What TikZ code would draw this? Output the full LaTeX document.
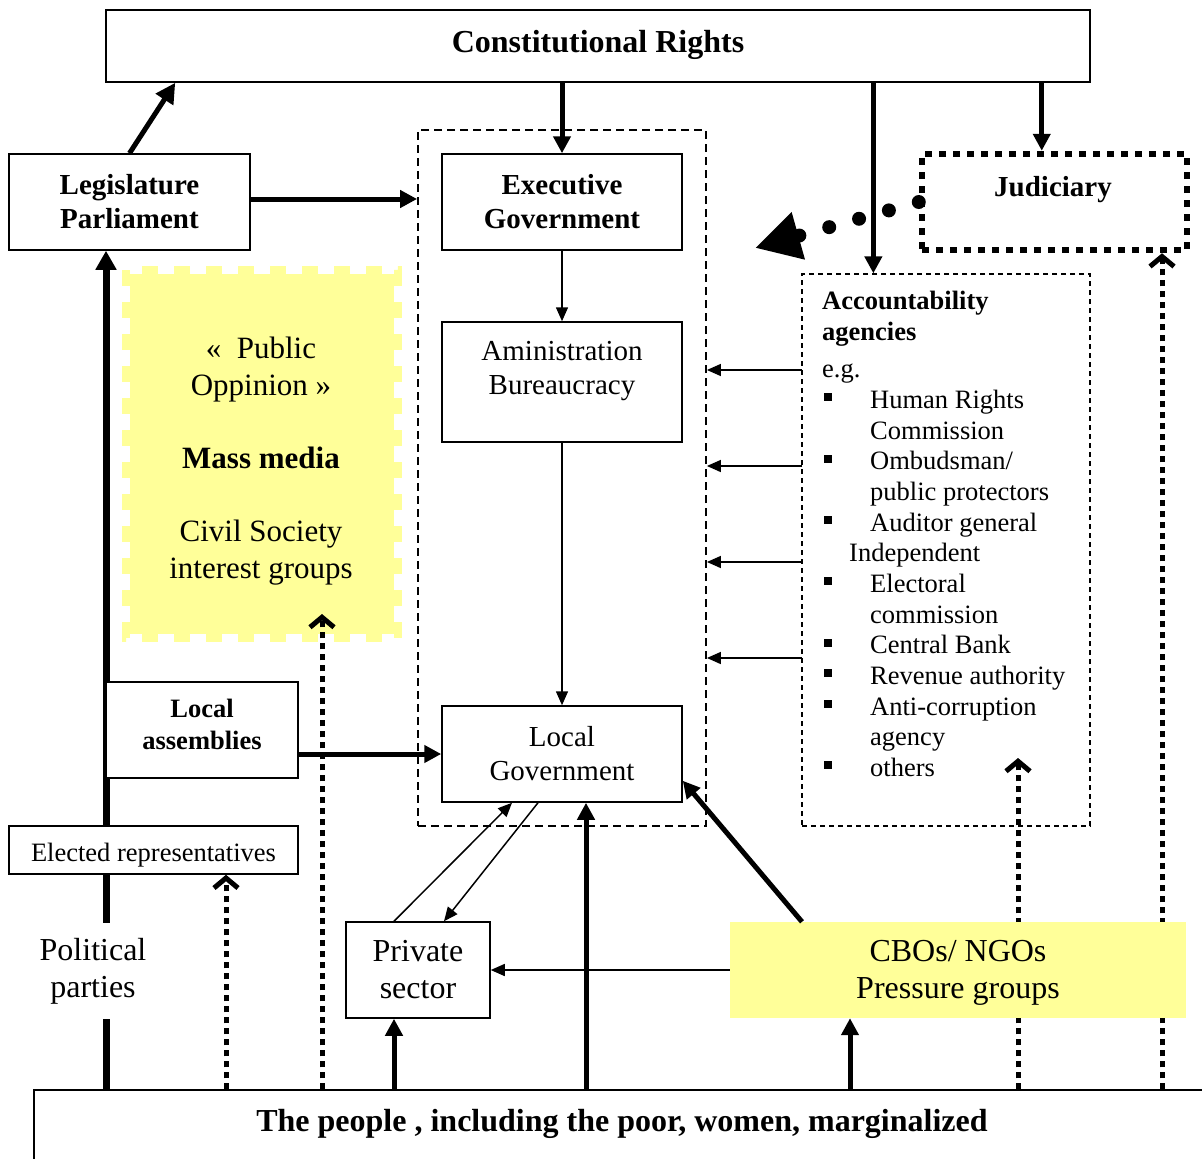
\documentclass[tikz,border=0pt]{standalone}
\usepackage{fontspec}
\setmainfont{Liberation Serif}
\usetikzlibrary{arrows.meta}
\definecolor{lyellow}{HTML}{FFFF99}
\pgfdeclarelayer{bg}
\pgfsetlayers{bg,main}
\tikzset{
 f32/.style={font=\fontsize{32}{37}\selectfont},
 f31/.style={font=\fontsize{31}{37}\selectfont},
 f29/.style={font=\fontsize{29}{34}\selectfont},
 f29b/.style={font=\fontsize{29}{34}\selectfont\bfseries},
 f32b/.style={font=\fontsize{32}{37}\selectfont\bfseries},
 f26/.style={font=\fontsize{26.5}{32}\selectfont},
 f26b/.style={font=\fontsize{26.5}{32}\selectfont\bfseries},
 box/.style={draw, line width=1.5pt, fill=white, inner sep=0pt, align=center},
 thickarr/.style={line width=5pt, -{Triangle[length=17pt,width=17pt]}},
 bigarr/.style={line width=5pt, -{Triangle[length=20pt,width=20pt]}},
 polarr/.style={line width=7pt, -{Triangle[length=19pt,width=20pt]}},
 thinarr/.style={line width=1.5pt, -{Triangle[length=14pt,width=12pt]}},
 dotarr/.style={line width=5pt, dash pattern=on 6pt off 5pt, -{Straight Barb[length=10pt,width=24pt]}},
 jdots/.style={line width=14pt, line cap=round, dash pattern=on 0pt off 31pt, -{Triangle[length=45pt,width=46pt]}},
 acl/.style={f26, anchor=base west, inner sep=0pt},
}
\begin{document}
\begin{tikzpicture}[x=1pt,y=-1pt]
\useasboundingbox (0,0) rectangle (1202,1159);
\clip (0,0) rectangle (1202,1159);

% public opinion area
\fill[lyellow] (130,274) rectangle (394,634);
\draw[lyellow, line width=8pt, dash pattern=on 16pt off 16pt] (126,270) rectangle (398,638);
\node[f31, align=center] (pubop) at (261,461) {«\ \ Public\\Oppinion »\\[36pt]\textbf{Mass media}\\[36pt]Civil Society\\interest groups};

% boxes
\node[box, minimum width=984pt, minimum height=72pt] (const) at (598,46) {};
\node[f32b] (constlab) at (598,45) {Constitutional Rights};
\node[box, f29b, minimum width=241pt, minimum height=96pt] (leg) at (129.5,202) {Legislature\\Parliament};
\node[draw, line width=1.8pt, dash pattern=on 8pt off 5pt, minimum width=288pt, minimum height=696pt] (execgrp) at (562,478) {};
\node[box, f29b, minimum width=240pt, minimum height=96pt] (exec) at (562,202) {Executive\\Government};
\node[box, minimum width=240pt, minimum height=120pt] (adm) at (562,382) {};
\node[f29, align=center] (admlab) at (562,371) {Aministration\\Bureaucracy};
\node[box, f29, minimum width=240pt, minimum height=96pt] (lg) at (562,754) {Local\\Government};
\node[draw, line width=6.5pt, dash pattern=on 7pt off 7pt, minimum width=265pt, minimum height=96pt, inner sep=0pt] (jud) at (1054.5,202) {};
\node[f29b] (judlab) at (1053,190) {Judiciary};
\node[draw, line width=1.3pt, dash pattern=on 5pt off 4pt, minimum width=288pt, minimum height=552pt] (acct) at (946,550) {};
\node[box, minimum width=192pt, minimum height=96pt] (locasm) at (202,730) {};
\node[f26b, align=center] (locasmlab) at (202,724) {Local\\assemblies};
\node[box, minimum width=289pt, minimum height=48pt] (elec) at (153.5,850) {};
\node[f26] (eleclab) at (153.5,855) {Elected representatives};
\node[box, f32, minimum width=144pt, minimum height=96pt] (priv) at (418,970) {Private\\sector};
\node[fill=lyellow, minimum width=456pt, minimum height=96pt] (cbo) at (958,970) {};
\node[f32, align=center] (cbolab) at (958,973) {CBOs/ NGOs\\Pressure groups};
\node[box, minimum width=1196pt, minimum height=110pt] (people) at (632,1145) {};
\node[f32b] (peoplelab) at (622,1124) {The people , including the poor, women, marginalized};
\node[fill=white, f32, align=center, inner xsep=2pt, minimum height=96pt] (pol) at (93,971) {Political\\parties};

% accountability list
\node[acl, font=\fontsize{26.5}{32}\selectfont\bfseries] (a1) at (822,309) {Accountability};
\node[acl, font=\fontsize{26.5}{32}\selectfont\bfseries] (a2) at (822,340.1) {agencies};
\node[acl] (a3) at (822,377.3) {e.g.};
\node[acl] (a4) at (870,408.4) {Human Rights};
\node[acl] (a5) at (870,439.1) {Commission};
\node[acl] (a6) at (870,469.7) {Ombudsman/};
\node[acl] (a7) at (870,500.4) {public protectors};
\node[acl] (a8) at (870,531.1) {Auditor general};
\node[acl] (a9) at (849,561.8) {Independent};
\node[acl] (a10) at (870,592.4) {Electoral};
\node[acl] (a11) at (870,623.1) {commission};
\node[acl] (a12) at (870,653.8) {Central Bank};
\node[acl] (a13) at (870,684.4) {Revenue authority};
\node[acl] (a14) at (870,715.1) {Anti-corruption};
\node[acl] (a15) at (870,745.8) {agency};
\node[acl] (a16) at (870,776.4) {others};
\foreach \bb in {408.4,469.7,531.1,592.4,653.8,684.4,715.1,776.4}
  \fill (824,\bb-7) rectangle (832,\bb-15);

% connectors
\coordinate (legc) at ([xshift=70pt]const.south west);
\draw[bigarr] (leg.north) -- (legc);
\draw[thickarr] (const.south -| exec.north) -- (exec.north);
\coordinate (acctn) at ([xshift=72pt]acct.north west);
\draw[thickarr] (const.south -| acctn) -- (acctn);
\coordinate (judn) at ([xshift=123pt]jud.north west);
\draw[thickarr] (const.south -| judn) -- (judn);
\draw[thickarr] ([yshift=3pt]leg.east) -- ([yshift=3pt]leg.east -| execgrp.west);
\draw[thinarr] (exec.south) -- (adm.north);
\draw[thinarr] (adm.south) -- (lg.north);
\coordinate (jtip) at (755,248);
\draw[jdots] (jud.west) -- (jtip);
\foreach \yy [count=\i] in {370,466,562,658} {
  \coordinate (ac\i) at (802,\yy);
  \draw[thinarr] (ac\i) -- (ac\i -| execgrp.east);
}
\draw[thickarr] (lg.west -| locasm.east) -- (lg.west);
\draw[thinarr] ([xshift=-24pt]priv.north) -- ([xshift=-50pt]lg.south);
\draw[thinarr] ([xshift=-24pt]lg.south) -- ([xshift=26pt]priv.north);
\coordinate (lgs) at ([xshift=24pt]lg.south);
\draw[thickarr] (people.north -| lgs) -- (lgs);
\draw[thickarr] ([xshift=-156pt]cbo.north) -- ([yshift=22pt]lg.south east);
\draw[thinarr] (cbo.west) -- (priv.east);
\coordinate (privs) at ([xshift=-24pt]priv.south);
\draw[thickarr] (people.north -| privs) -- (privs);
\coordinate (cbos) at ([xshift=-108pt]cbo.south);
\draw[thickarr] (people.north -| cbos) -- (cbos);
\coordinate (elecs) at ([xshift=72.5pt]elec.south);
\draw[dotarr] (people.north -| elecs) -- (elecs);
\coordinate (pubtip) at (322,614);
\draw[dotarr] (people.north -| pubtip) -- (pubtip);

\begin{pgfonlayer}{bg}
\coordinate (acctip) at (1018,758);
\draw[dotarr] (people.north -| acctip) -- (acctip);
\coordinate (juds) at ([xshift=107.5pt]jud.south);
\draw[dotarr] (people.north -| juds) -- (juds);
\coordinate (legb) at ([xshift=-23.5pt]leg.south);
\draw[polarr] (people.north -| legb) -- (legb);
\end{pgfonlayer}
\end{tikzpicture}
\end{document}
